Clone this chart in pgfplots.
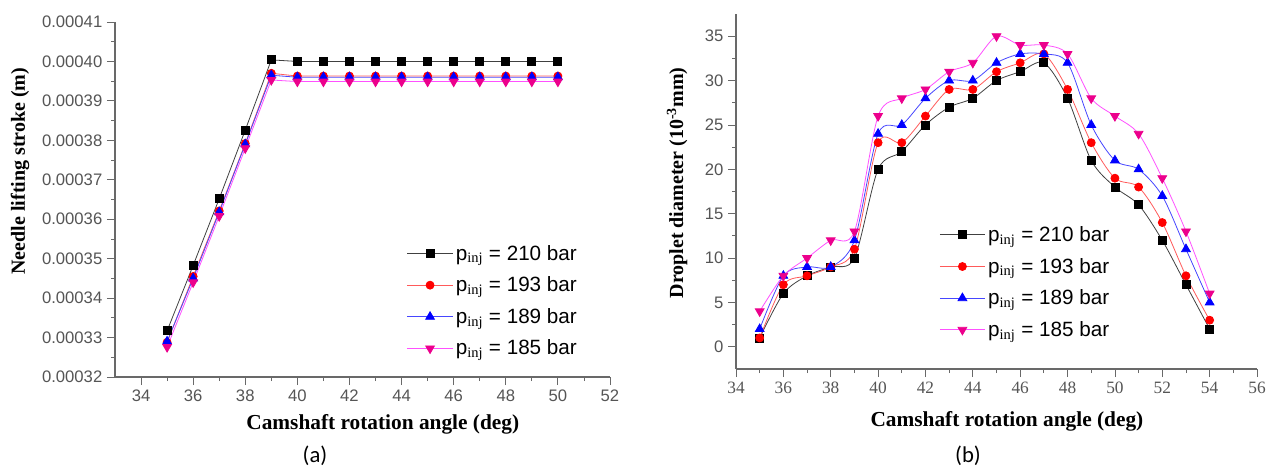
\documentclass[border=0pt]{standalone}
\usepackage{fontspec}
\setmainfont{Liberation Serif}
\setsansfont{Liberation Sans}
\newfontfamily\calibri{Carlito}
\usepackage{pgfplots}
\pgfplotsset{compat=1.18}

\definecolor{tickgray}{RGB}{85,85,85}
\definecolor{axgray}{RGB}{105,105,105}
\definecolor{lred}{RGB}{255,90,90}
\definecolor{lblue}{RGB}{70,70,255}
\definecolor{lmag}{RGB}{255,80,255}

% px -> pt : 0.75
\pgfplotsset{
  originstyle/.style={
    scale only axis,
    axis x line*=bottom, axis y line*=left,
    tick align=outside,
    major tick length=6pt, minor tick length=3pt,
    minor x tick num=1, minor y tick num=1,
    every tick/.style={axgray, line width=0.6pt},
    axis line style={axgray, line width=0.8pt},
    tick label style={font=\sffamily\fontsize{12.5}{12.5}\selectfont, text=tickgray},
    label style={font=\rmfamily\bfseries\fontsize{15}{15}\selectfont},
    x label style={font=\rmfamily\bfseries\fontsize{16}{16}\selectfont},
    /pgf/number format/assume math mode=true,
    legend style={draw=none, fill=none, font=\sffamily\fontsize{15.5}{15.5}\selectfont,
      row sep=7pt, inner sep=0pt},
    legend cell align=left,
    legend image code/.code={\draw[mark repeat=2,mark phase=2] plot coordinates {(0pt,0pt) (17pt,0pt) (34pt,0pt)};},
    clip=false,
  },
  s210/.style={draw=black!75, line width=0.6pt, mark=square*, mark size=3pt, mark options={solid, fill=black, draw=black}},
  s193/.style={draw=lred, line width=0.6pt, mark=*, mark size=3pt, mark options={solid, fill=red, draw=red}},
  s189/.style={draw=lblue, line width=0.6pt, mark=triangle*, mark size=3.8pt, mark options={solid, fill=blue, draw=blue}},
  s185/.style={draw=lmag, line width=0.6pt, mark=triangle*, mark size=3.8pt, mark options={solid, fill=magenta, draw=magenta, rotate=180}},
}

\begin{document}
\begin{tikzpicture}
\path[use as bounding box] (0,0) rectangle (952.5pt,351pt);

% (a) needle lifting stroke
\begin{axis}[originstyle,
  at={(86.25pt,68.25pt)}, anchor=south west,
  width=371.25pt, height=266.25pt,
  xmin=33, xmax=52, xtick={34,36,...,52},
  ymin=0.00032, ymax=0.00041,
  ytick={0.00032,0.00033,0.00034,0.00035,0.00036,0.00037,0.00038,0.00039,0.00040,0.00041},
  scaled y ticks=false,
  yticklabel style={/pgf/number format/fixed, /pgf/number format/precision=5, /pgf/number format/fixed zerofill},
  xlabel={Camshaft rotation angle (deg)},
  ylabel={Needle lifting stroke (m)},
  x label style={at={(axis description cs:0.541,-0.132)}, anchor=center},
  y label style={at={(axis description cs:-0.192,0.58)}, anchor=center},
  legend style={at={(axis description cs:0.939,0.38)}, anchor=north east},
]
\addplot[s210] coordinates {(35,0.0003317) (36,0.0003483) (37,0.0003652) (38,0.0003826) (39,0.0004004)
  (40,0.00040) (41,0.00040) (42,0.00040) (43,0.00040) (44,0.00040) (45,0.00040) (46,0.00040) (47,0.00040) (48,0.00040) (49,0.00040) (50,0.00040)};
\addplot[s193] coordinates {(35,0.0003288) (36,0.0003455) (37,0.0003621) (38,0.0003792) (39,0.0003970)
  (40,0.0003963) (41,0.0003963) (42,0.0003963) (43,0.0003963) (44,0.0003963) (45,0.0003963) (46,0.0003963) (47,0.0003963) (48,0.0003963) (49,0.0003963) (50,0.0003963)};
\addplot[s189] coordinates {(35,0.0003290) (36,0.0003450) (37,0.0003618) (38,0.0003790) (39,0.0003965)
  (40,0.0003960) (41,0.0003960) (42,0.0003960) (43,0.0003960) (44,0.0003960) (45,0.0003960) (46,0.0003960) (47,0.0003960) (48,0.0003960) (49,0.0003960) (50,0.0003960)};
\addplot[s185] coordinates {(35,0.0003276) (36,0.0003440) (37,0.0003608) (38,0.0003780) (39,0.0003953)
  (40,0.0003949) (41,0.0003949) (42,0.0003949) (43,0.0003949) (44,0.0003949) (45,0.0003949) (46,0.0003949) (47,0.0003949) (48,0.0003949) (49,0.0003949) (50,0.0003949)};
\legend{p\textsubscript{\rmfamily inj} = 210 bar, p\textsubscript{\rmfamily inj} = 193 bar, p\textsubscript{\rmfamily inj} = 189 bar, p\textsubscript{\rmfamily inj} = 185 bar}
\end{axis}

% (b) droplet diameter
\begin{axis}[originstyle,
  at={(552pt,74.25pt)}, anchor=south west,
  width=390.75pt, height=266.25pt,
  xmin=34, xmax=56, xtick={34,36,...,56},
  ymin=-2.5, ymax=37.5, ytick={0,5,...,35},
  xticklabel style={font=\rmfamily\fontsize{13}{13}\selectfont},
  xlabel={Camshaft rotation angle (deg)},
  ylabel={Droplet diameter (10\textsuperscript{-3}mm)},
  x label style={at={(axis description cs:0.52,-0.148)}, anchor=center},
  y label style={at={(axis description cs:-0.113,0.524)}, anchor=center},
  legend style={at={(axis description cs:0.722,0.41)}, anchor=north east},
]
\addplot[s210, smooth] coordinates {(35,1) (36,6) (37,8) (38,9) (39,10) (40,20) (41,22) (42,25) (43,27) (44,28)
  (45,30) (46,31) (47,32) (48,28) (49,21) (50,18) (51,16) (52,12) (53,7) (54,2)};
\addplot[s193, smooth] coordinates {(35,1) (36,7) (37,8) (38,9) (39,11) (40,23) (41,23) (42,26) (43,29) (44,29)
  (45,31) (46,32) (47,33) (48,29) (49,23) (50,19) (51,18) (52,14) (53,8) (54,3)};
\addplot[s189, smooth] coordinates {(35,2) (36,8) (37,9) (38,9) (39,12) (40,24) (41,25) (42,28) (43,30) (44,30)
  (45,32) (46,33) (47,33) (48,32) (49,25) (50,21) (51,20) (52,17) (53,11) (54,5)};
\addplot[s185, smooth] coordinates {(35,4) (36,8) (37,10) (38,12) (39,13) (40,26) (41,28) (42,29) (43,31) (44,32)
  (45,35) (46,34) (47,34) (48,33) (49,28) (50,26) (51,24) (52,19) (53,13) (54,6)};
\legend{p\textsubscript{\rmfamily inj} = 210 bar, p\textsubscript{\rmfamily inj} = 193 bar, p\textsubscript{\rmfamily inj} = 189 bar, p\textsubscript{\rmfamily inj} = 185 bar}
\end{axis}

\node[font=\calibri\fontsize{17}{17}\selectfont] at (236.25pt,9.5pt) {(a)};
\node[font=\calibri\fontsize{17}{17}\selectfont] at (726pt,9.5pt) {(b)};
\end{tikzpicture}
\end{document}
